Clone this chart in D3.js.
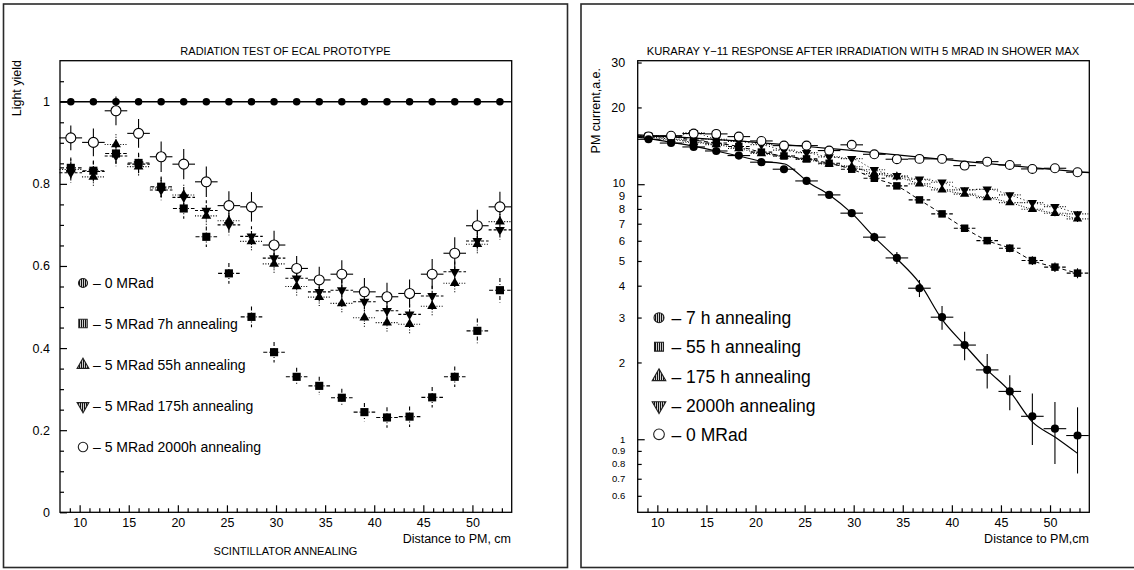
<!DOCTYPE html>
<html><head><meta charset="utf-8">
<script src="https://cdn.jsdelivr.net/npm/d3@7"></script>
<style>
html,body{margin:0;padding:0;background:#fff;}
svg{display:block;font-family:"Liberation Sans",Arial,Helvetica,sans-serif;}
</style></head>
<body>
<svg id="c" width="1134" height="570"></svg>
<script>
// ---------- shared positions (cm) ----------
const xPos = [9.1, 11.4, 13.7, 16.0, 18.3, 20.6, 22.9, 25.2, 27.5, 29.8, 32.1, 34.4, 36.7, 39.0, 41.3, 43.6, 45.9, 48.2, 50.5, 52.8];

// ---------- left panel: light yield ----------
const leftTitle = "RADIATION TEST OF ECAL PROTOTYPE";
const leftYTicks = [0, 0.2, 0.4, 0.6, 0.8, 1];
const leftXTicks = [10, 15, 20, 25, 30, 35, 40, 45, 50];
const left0MRad   = [1, 1, 1, 1, 1, 1, 1, 1, 1, 1, 1, 1, 1, 1, 1, 1, 1, 1, 1, 1];
const left7h      = [0.839, 0.832, 0.874, 0.851, 0.793, 0.740, 0.671, 0.582, 0.476, 0.390, 0.330, 0.308, 0.279, 0.244, 0.231, 0.233, 0.280, 0.330, 0.442, 0.541];
const left7hErr   = [0.025, 0.025, 0.025, 0.025, 0.025, 0.025, 0.025, 0.025, 0.025, 0.025, 0.022, 0.022, 0.022, 0.022, 0.025, 0.025, 0.025, 0.025, 0.03, 0.03];
const left55h     = [0.835, 0.817, 0.896, 0.842, 0.790, 0.773, 0.722, 0.710, 0.660, 0.605, 0.550, 0.524, 0.509, 0.474, 0.462, 0.458, 0.502, 0.558, 0.653, 0.708];
const left55hErr  = [0.025, 0.025, 0.025, 0.025, 0.025, 0.025, 0.025, 0.025, 0.025, 0.025, 0.025, 0.025, 0.025, 0.025, 0.025, 0.025, 0.025, 0.025, 0.025, 0.025];
const left175h    = [0.827, 0.830, 0.868, 0.848, 0.785, 0.767, 0.735, 0.700, 0.672, 0.619, 0.570, 0.537, 0.541, 0.513, 0.491, 0.482, 0.527, 0.586, 0.661, 0.688];
const left175hErr = [0.025, 0.025, 0.025, 0.025, 0.025, 0.025, 0.025, 0.025, 0.025, 0.025, 0.025, 0.025, 0.025, 0.025, 0.025, 0.025, 0.025, 0.025, 0.025, 0.025];
const left2000h   = [0.912, 0.901, 0.978, 0.923, 0.866, 0.848, 0.805, 0.747, 0.744, 0.651, 0.594, 0.566, 0.580, 0.537, 0.525, 0.533, 0.580, 0.631, 0.698, 0.744];
const left2000hErr= [0.030, 0.034, 0.035, 0.035, 0.037, 0.037, 0.037, 0.035, 0.036, 0.035, 0.030, 0.032, 0.034, 0.034, 0.034, 0.034, 0.037, 0.039, 0.039, 0.037];
const leftLegend = ["– 0 MRad", "– 5 MRad 7h annealing", "– 5 MRad 55h annealing", "– 5 MRad 175h annealing", "– 5 MRad 2000h annealing"];

// ---------- right panel: PM current ----------
const rightTitle = "KURARAY Y−11 RESPONSE AFTER IRRADIATION WITH 5 MRAD IN SHOWER MAX";
const rightYTicks = [0.6, 0.7, 0.8, 0.9, 1, 2, 3, 4, 5, 6, 7, 8, 9, 10, 20, 30];
const rightXTicks = [10, 15, 20, 25, 30, 35, 40, 45, 50];
const right7h     = [15.0, 14.5, 14.0, 13.5, 12.95, 12.2, 11.45, 10.3, 9.08, 7.7, 6.2, 5.14, 3.91, 3.01, 2.34, 1.87, 1.54, 1.23, 1.10, 1.034];
const right7hErr  = [0.2, 0.2, 0.2, 0.2, 0.2, 0.2, 0.2, 0.2, 0.25, 0.25, 0.25, 0.28, 0.3, 0.32, 0.3, 0.29, 0.24, 0.28, 0.3, 0.3];
const right55h    = [15.45, 15.35, 14.9, 14.5, 14.05, 13.36, 12.9, 12.57, 12.08, 11.45, 10.55, 9.85, 8.68, 7.65, 6.72, 6.01, 5.61, 5.02, 4.73, 4.48];
const right55hErr = [0.2, 0.2, 0.2, 0.2, 0.2, 0.2, 0.2, 0.2, 0.2, 0.2, 0.2, 0.2, 0.2, 0.2, 0.2, 0.2, 0.2, 0.2, 0.2, 0.2];
const right175h   = [15.3, 15.0, 14.6, 14.3, 13.8, 13.2, 12.9, 12.5, 12.0, 11.7, 11.0, 10.7, 10.03, 9.5, 9.14, 8.86, 8.47, 7.98, 7.69, 7.31];
const right2000h  = [15.5, 15.3, 15.9, 15.0, 14.7, 14.3, 13.6, 13.3, 12.8, 12.6, 11.4, 10.8, 10.46, 10.18, 9.5, 9.56, 9.08, 8.47, 8.17, 7.65];
const rightTriErr = [0.2, 0.2, 0.2, 0.2, 0.2, 0.2, 0.2, 0.2, 0.2, 0.2, 0.2, 0.2, 0.2, 0.2, 0.2, 0.2, 0.2, 0.2, 0.2, 0.2];
const right0MRad  = [15.4, 15.5, 15.8, 15.75, 15.37, 14.78, 14.17, 14.17, 13.55, 14.27, 13.1, 12.53, 12.57, 12.57, 11.83, 12.26, 11.9, 11.48, 11.55, 11.14];
const right0Err   = [0.15, 0.15, 0.15, 0.15, 0.15, 0.15, 0.15, 0.15, 0.15, 0.15, 0.15, 0.15, 0.15, 0.15, 0.15, 0.15, 0.15, 0.15, 0.15, 0.15];
// fitted curves
const fit0X  = [8, 20, 30, 42, 54];
const fit0Y  = [15.6, 14.6, 13.55, 12.2, 11.1];
const fit7X  = [8, 9.1, 11.4, 13.7, 16.0, 18.3, 20.6, 23.0, 24.0, 25.2, 27.5, 29.8, 32.1, 34.4, 36.7, 39.0, 41.3, 43.6, 45.9, 48.2, 50.5, 52.8];
const fit7Y  = [15.3, 15.1, 14.6, 14.1, 13.5, 12.9, 12.3, 12.0, 11.3, 10.3, 9.1, 7.7, 6.2, 5.1, 4.1, 2.95, 2.34, 1.87, 1.54, 1.17, 1.02, 0.88];
const rightLegend = ["– 7 h annealing", "– 55 h annealing", "– 175 h annealing", "– 2000h annealing", "– 0 MRad"];

const svg = d3.select("#c");
svg.append("rect").attr("width",1134).attr("height",570).attr("fill","#fff");

// hatch pattern for legend symbols
const defs = svg.append("defs");
const pat = defs.append("pattern").attr("id","hatch").attr("patternUnits","userSpaceOnUse")
  .attr("width",2).attr("height",2);
pat.append("rect").attr("width",2).attr("height",2).attr("fill","#fff");
pat.append("rect").attr("width",1.2).attr("height",2).attr("fill","#111");

// panel frames
svg.append("rect").attr("x",3.5).attr("y",4).attr("width",564).attr("height",563.5)
  .attr("fill","none").attr("stroke","#2a2a2a").attr("stroke-width",1.6);
svg.append("rect").attr("x",581).attr("y",4).attr("width",570).attr("height",563.5)
  .attr("fill","none").attr("stroke","#2a2a2a").attr("stroke-width",1.6);

const sym = {
  circle: d3.symbol().type(d3.symbolCircle),
  square: d3.symbol().type(d3.symbolSquare),
  tri: d3.symbol().type(d3.symbolTriangle)
};

function marker(g, kind, cx, cy, size, fill, stroke) {
  let p;
  if (kind === "circle") p = g.append("path").attr("d", sym.circle.size(size)());
  else if (kind === "square") p = g.append("path").attr("d", sym.square.size(size)());
  else p = g.append("path").attr("d", sym.tri.size(size)());
  let tr = `translate(${cx},${cy})`;
  if (kind === "down") tr += " rotate(180)";
  p.attr("transform", tr).attr("fill", fill).attr("stroke", stroke || "none").attr("stroke-width", 1.1);
  return p;
}

function series(g, x, y, vals, errs, dx, kind, size, fill, stroke, dash) {
  const eg = g.append("g").attr("stroke","#000").attr("stroke-width",1.1).attr("fill","none");
  if (dash) eg.attr("stroke-dasharray", dash);
  vals.forEach((v,i) => {
    const cx = x(xPos[i]), cy = y(v);
    eg.append("line").attr("x1", x(xPos[i]-dx)).attr("x2", x(xPos[i]+dx)).attr("y1", cy).attr("y2", cy);
    if (errs) eg.append("line").attr("x1", cx).attr("x2", cx).attr("y1", y(v+errs[i])).attr("y2", y(v-errs[i]));
  });
  const mg = g.append("g");
  vals.forEach((v,i) => marker(mg, kind, x(xPos[i]), y(v), size, fill, stroke));
}

function frameAxes(g, x, y, x0, x1, y0, y1) {
  g.append("rect").attr("x",x0).attr("y",y1).attr("width",x1-x0).attr("height",y0-y1)
    .attr("fill","none").attr("stroke","#000").attr("stroke-width",1.3);
  const ax = g.append("g").attr("transform",`translate(0,${y0})`)
    .call(d3.axisBottom(x).tickValues(leftXTicks).tickSizeInner(-7).tickSizeOuter(0).tickPadding(6).tickFormat(d3.format("d")));
  ax.select(".domain").remove();
  ax.selectAll("text").attr("font-size",12.5).attr("font-family","Liberation Sans, Arial, sans-serif");
  ax.selectAll("line").attr("stroke-width",1.2);
  const minors = d3.range(9, 54, 1).filter(v => v % 5 !== 0);
  const axm = g.append("g").attr("transform",`translate(0,${y0})`)
    .call(d3.axisBottom(x).tickValues(minors).tickSizeInner(-4).tickSizeOuter(0).tickFormat(""));
  axm.select(".domain").remove();
  axm.selectAll("line").attr("stroke-width",1.2);
}

// ================= LEFT PANEL =================
(function(){
  const g = svg.append("g");
  const X0 = 60, X1 = 511.7, Y0 = 512.3, Y1 = 60.7;
  const x = d3.scaleLinear().domain([8, 54]).range([X0, X1]);
  const y = d3.scaleLinear().domain([0, 1.1]).range([Y0, Y1]);
  frameAxes(g, x, y, X0, X1, Y0, Y1);
  const ay = g.append("g").attr("transform",`translate(${X0},0)`)
    .call(d3.axisLeft(y).tickValues(leftYTicks).tickSizeInner(-7).tickSizeOuter(0).tickPadding(10).tickFormat(d => d === 0 ? "0" : d === 1 ? "1" : d3.format(".1f")(d)));
  ay.select(".domain").remove();
  ay.selectAll("text").attr("font-size",12.5);
  ay.selectAll("line").attr("stroke-width",1.2);
  const ym = d3.range(0.05, 1.1, 0.05).filter(v => Math.abs(v*5 - Math.round(v*5)) > 1e-6);
  const aym = g.append("g").attr("transform",`translate(${X0},0)`)
    .call(d3.axisLeft(y).tickValues(ym).tickSizeInner(-4).tickSizeOuter(0).tickFormat(""));
  aym.select(".domain").remove();
  aym.selectAll("line").attr("stroke-width",1.2);

  g.append("line").attr("x1", x(8)).attr("x2", x(54)).attr("y1", y(1)).attr("y2", y(1))
    .attr("stroke","#000").attr("stroke-width",1.3);

  series(g, x, y, left7h, left7hErr, 1.1, "square", 66, "#000", null, "4,2,1,2");
  series(g, x, y, left55h, left55hErr, 1.15, "up", 42, "#000", null, "1,1.6");
  series(g, x, y, left175h, left175hErr, 1.15, "down", 42, "#000", null, "3,2");
  series(g, x, y, left2000h, left2000hErr, 1.15, "circle", 78, "#fff", "#000", null);
  const mg = g.append("g");
  left0MRad.forEach((v,i) => marker(mg, "circle", x(xPos[i]), y(v), 44, "#000"));

  g.append("text").attr("x", 285.5).attr("y", 55).attr("text-anchor","middle").attr("font-size",11).text(leftTitle);
  g.append("text").attr("transform","translate(20.7,60) rotate(-90)").attr("text-anchor","end").attr("font-size",12.5).text("Light yield");
  g.append("text").attr("x", 511).attr("y", 543).attr("text-anchor","end").attr("font-size",12.5).text("Distance to PM, cm");
  g.append("text").attr("x", 285.5).attr("y", 555).attr("text-anchor","middle").attr("font-size",11).text("SCINTILLATOR ANNEALING");

  const rows = [283, 323.5, 365, 406, 447];
  const kinds = ["circle","square","up","down","circle"];
  const sizes = [64, 70, 60, 60, 70];
  const fills = ["url(#hatch)","url(#hatch)","url(#hatch)","url(#hatch)","#fff"];
  leftLegend.forEach((t,i) => {
    marker(g, kinds[i], 83, rows[i], sizes[i], fills[i], "#222");
    g.append("text").attr("x", 93).attr("y", rows[i]).attr("dy","0.36em").attr("font-size",14).text(t);
  });
})();

// ================= RIGHT PANEL =================
(function(){
  const g = svg.append("g");
  const X0 = 637.7, X1 = 1089.3, Y0 = 512.3, Y1 = 60.7;
  const x = d3.scaleLinear().domain([8, 54]).range([X0, X1]);
  const y = d3.scaleLog().domain([0.517, 30.5]).range([Y0, Y1]);
  frameAxes(g, x, y, X0, X1, Y0, Y1);
  const ay = g.append("g").attr("transform",`translate(${X0},0)`)
    .call(d3.axisLeft(y).tickValues(rightYTicks).tickSizeInner(-4).tickSizeOuter(0).tickPadding(12.5).tickFormat(d => String(d)));
  ay.select(".domain").remove();
  ay.selectAll("line").attr("stroke-width",1.2).attr("x2", d => (d === 1 || d === 10) ? 7 : 4);
  ay.selectAll("text").attr("font-size", d => d <= 1 ? 9.5 : (d >= 20 ? 12.5 : 11.5));
  // keep the tight "10" / "9" pair from colliding
  ay.selectAll("text").filter(d => d === 10).attr("dy", "0.22em");

  const lineGen = d3.line().x(d => x(d[0])).y(d => y(d[1])).curve(d3.curveMonotoneX);
  g.append("path").attr("d", lineGen(fit0X.map((v,i)=>[v, fit0Y[i]]))).attr("fill","none").attr("stroke","#000").attr("stroke-width",1.2);
  g.append("path").attr("d", lineGen(fit7X.map((v,i)=>[v, fit7Y[i]]))).attr("fill","none").attr("stroke","#000").attr("stroke-width",1.2);
  g.append("path").attr("d", lineGen(xPos.map((v,i)=>[v, right55h[i]]))).attr("fill","none").attr("stroke","#000").attr("stroke-width",1).attr("stroke-dasharray","4,3");
  g.append("path").attr("d", lineGen(xPos.map((v,i)=>[v, right175h[i]]))).attr("fill","none").attr("stroke","#000").attr("stroke-width",1).attr("stroke-dasharray","1,1.6");
  g.append("path").attr("d", lineGen(xPos.map((v,i)=>[v, right2000h[i]]))).attr("fill","none").attr("stroke","#000").attr("stroke-width",1).attr("stroke-dasharray","1,2.5");

  series(g, x, y, right55h, right55hErr, 1.1, "square", 56, "#000", null, "4,2");
  series(g, x, y, right175h, rightTriErr, 1.1, "up", 38, "#000", null, "1,1.6");
  series(g, x, y, right2000h, rightTriErr, 1.1, "down", 38, "#000", null, "1,1.6");
  series(g, x, y, right0MRad, right0Err, 1.15, "circle", 62, "#fff", "#000", null);
  series(g, x, y, right7h, right7hErr, 1.15, "circle", 52, "#000", null, null);

  g.append("text").attr("x", 863).attr("y", 55).attr("text-anchor","middle").attr("font-size",11.2).text(rightTitle);
  g.append("text").attr("transform","translate(599.5,68) rotate(-90)").attr("text-anchor","end").attr("font-size",12.5).text("PM current,a.e.");
  g.append("text").attr("x", 1089).attr("y", 543).attr("text-anchor","end").attr("font-size",12.5).text("Distance to PM,cm");

  const rows = [317.7, 346.7, 376.7, 405.7, 434.3];
  const kinds = ["circle","square","up","down","circle"];
  const sizes = [78, 80, 80, 80, 90];
  const fills = ["url(#hatch)","url(#hatch)","url(#hatch)","url(#hatch)","#fff"];
  rightLegend.forEach((t,i) => {
    marker(g, kinds[i], 659, rows[i], sizes[i], fills[i], "#222");
    g.append("text").attr("x", 671.5).attr("y", rows[i]).attr("dy","0.36em").attr("font-size",17.5).text(t);
  });
})();
</script>
</body></html>
